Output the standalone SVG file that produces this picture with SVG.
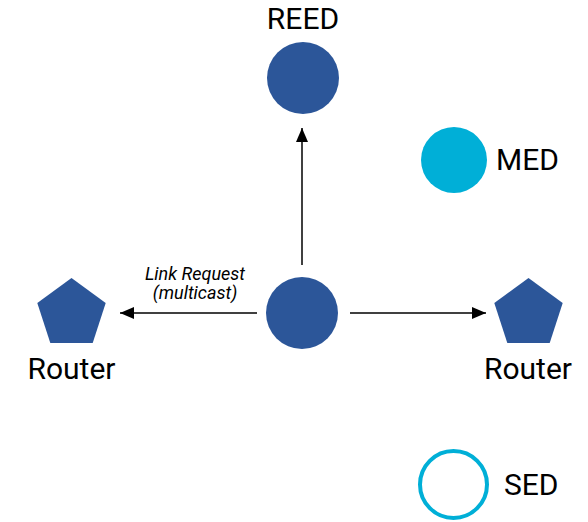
<svg xmlns="http://www.w3.org/2000/svg" width="588" height="522" viewBox="0 0 588 522">
  <style>
    .label { font-family: Roboto, "Liberation Sans", sans-serif; font-size: 30px; fill: #000; }
    .note { font-family: Roboto, "Liberation Sans", sans-serif; font-size: 18px; font-style: italic; fill: #000; text-anchor: middle; }
    .dev { fill: #2c5699; }
    .med { fill: #00afd7; }
    .sed { fill: none; stroke: #00afd7; stroke-width: 4; }
    .link { stroke: #000; stroke-width: 1.5; fill: none; marker-end: url(#arrow); }
  </style>
  <defs>
    <marker id="arrow" viewBox="0 0 14 12" refX="14" refY="6" markerWidth="14" markerHeight="12" markerUnits="userSpaceOnUse" orient="auto">
      <path d="M0,0 L14,6 L0,12 Z" fill="#000"/>
    </marker>
  </defs>

  <g id="connectors">
    <line class="link" x1="302" y1="265" x2="302" y2="128"/>
    <line class="link" x1="257" y1="313" x2="120" y2="313"/>
    <line class="link" x1="350" y1="313" x2="486" y2="313"/>
    <text class="note" x="195" y="280">Link Request</text>
    <text class="note" x="195" y="299">(multicast)</text>
  </g>

  <g id="reed">
    <circle class="dev" cx="303" cy="78" r="36"/>
    <text class="label" x="303" y="29" text-anchor="middle">REED</text>
  </g>

  <g id="center-node">
    <circle class="dev" cx="302" cy="313" r="36"/>
  </g>

  <g id="router-left">
    <polygon class="dev" points="71.5,278 105.7,302.9 92.7,343.1 50.3,343.1 37.3,302.9"/>
    <text class="label" x="71.5" y="379" text-anchor="middle">Router</text>
  </g>

  <g id="router-right">
    <polygon class="dev" points="528.5,278 562.7,302.9 549.7,343.1 507.3,343.1 494.3,302.9"/>
    <text class="label" x="528" y="379" text-anchor="middle">Router</text>
  </g>

  <g id="med">
    <circle class="med" cx="454" cy="160" r="33"/>
    <text class="label" x="496" y="170">MED</text>
  </g>

  <g id="sed">
    <circle class="sed" cx="453.5" cy="484.5" r="33.5"/>
    <text class="label" x="504" y="495">SED</text>
  </g>
</svg>
